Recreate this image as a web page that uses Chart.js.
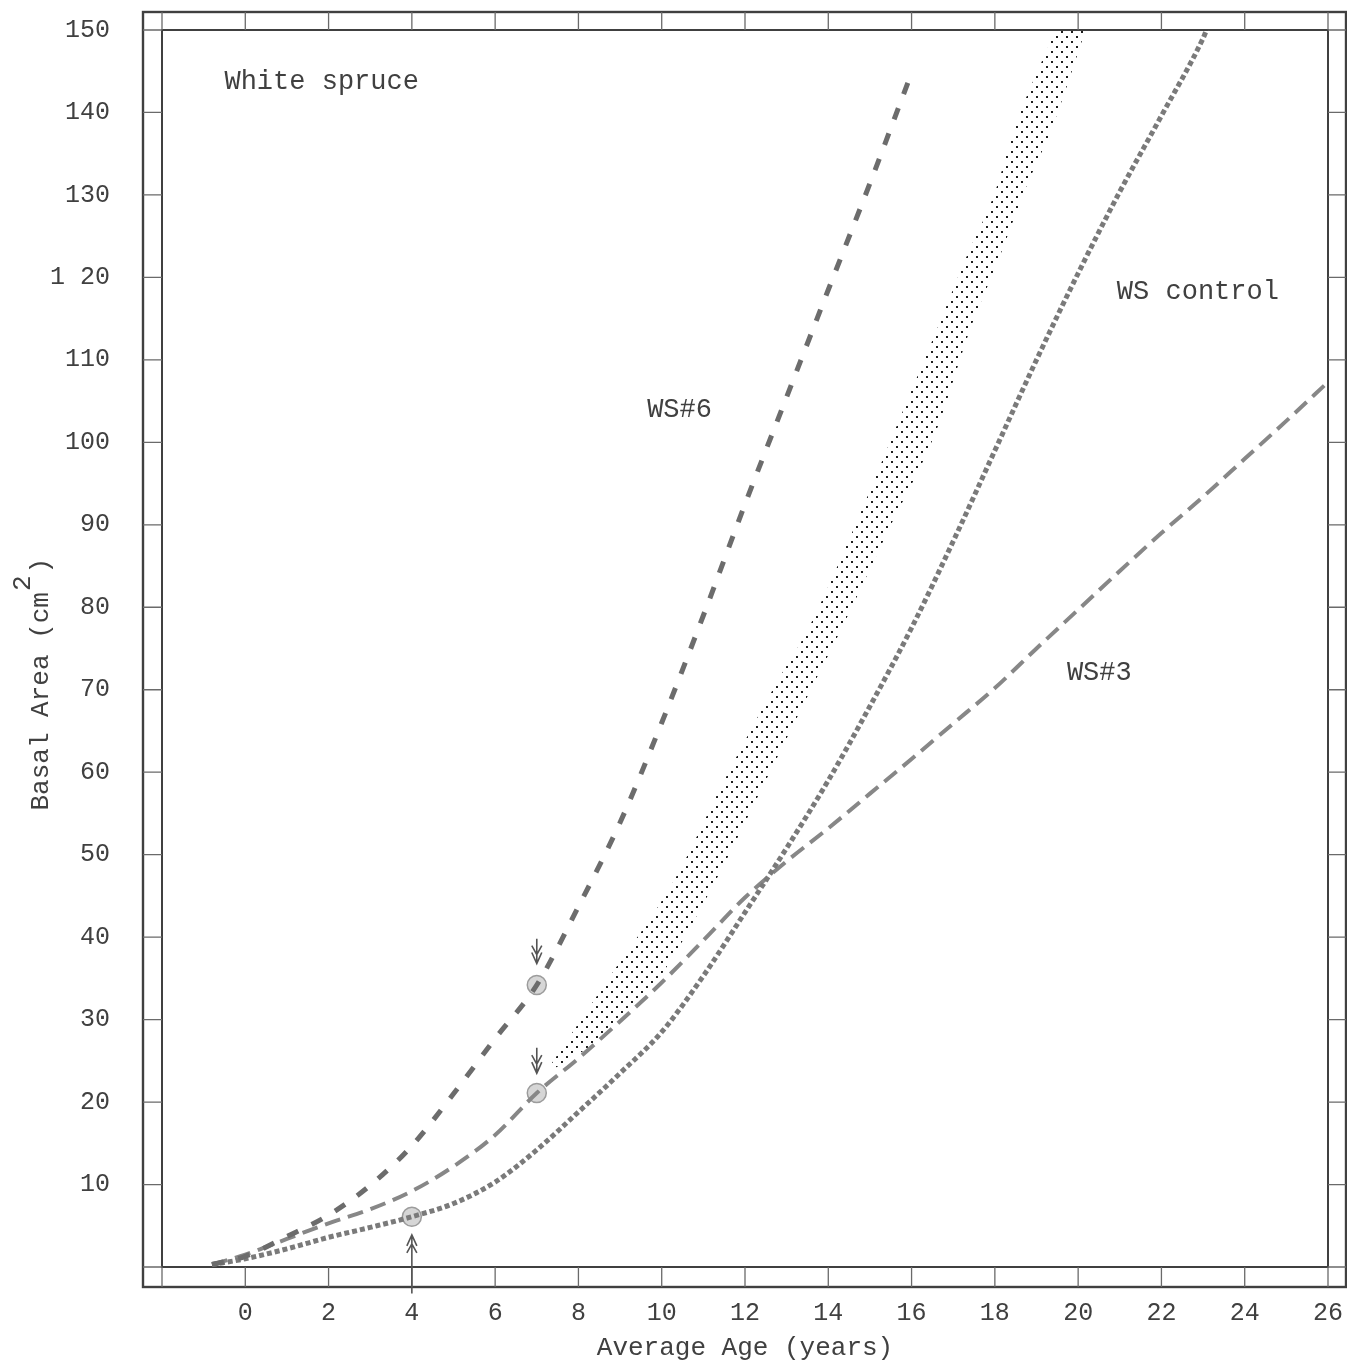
<!DOCTYPE html>
<html>
<head>
<meta charset="utf-8">
<title>White spruce - basal area vs average age</title>
<script src="https://cdn.jsdelivr.net/npm/chart.js@4.4.1/dist/chart.umd.min.js"></script>
<style>
  html, body { margin: 0; padding: 0; background: #fff; }
</style>
</head>
<body>
<canvas id="chart" width="1347" height="1367"></canvas>
<script>
/* Basal area (cm2) vs average age (years), white spruce.
 * Valori letti a occhio dal grafico originale (dattiloscritto). */

// WS#6 (tratteggio grosso)
const ws6Age  = [-0.8, 0, 1, 2, 3, 4, 5, 6, 7, 8, 9, 10, 11, 12, 13, 14, 15, 16];
const ws6Area = [0.3, 1.3, 3.7, 6.3, 9.9, 14.7, 21.0, 27.7, 34.2, 43.7, 53.9, 66.0, 79.0, 92.5, 105.5, 118.5, 131.4, 144.8];

// WS control (puntinato fitto)
const ctlAge  = [-0.8, 0, 1, 2, 3, 4, 5, 6, 7, 8, 9, 10, 11, 12, 13, 14, 15, 16, 17, 18, 19, 20, 21, 22, 23, 23.1];
const ctlArea = [0.3, 1.0, 2.2, 3.6, 4.8, 6.1, 7.7, 10.3, 14.2, 18.8, 23.5, 28.5, 35.3, 43.0, 50.8, 59.0, 68.0, 77.5, 88.0, 99.0, 110.0, 120.5, 130.4, 139.6, 149.0, 150.2];

// WS#3 (tratteggio lungo)
const ws3Age  = [-0.8, 0, 1, 2, 3, 4, 5, 6, 7, 8, 9, 10, 11, 12, 13, 14, 15, 16, 17, 18, 19, 20, 21, 22, 23, 24, 25, 26];
const ws3Area = [0.3, 1.5, 3.4, 5.3, 7.0, 9.2, 12.2, 16.0, 21.1, 25.3, 29.8, 34.5, 39.6, 44.8, 49.2, 53.2, 57.4, 61.6, 65.9, 70.2, 75.0, 79.7, 84.4, 89.0, 93.4, 98.0, 102.6, 107.3];

// fascia punteggiata: bordo sinistro (alto) e destro (basso)
const bandTopAge  = [7.2, 8.7, 10.3, 11.5, 12.8, 13.5, 14.6, 15.6, 16.6, 17.3, 18.0, 18.5, 19.46, 20.3];
const bandTopArea = [23.5, 34.8, 46.9, 59.0, 71.2, 77.2, 89.4, 101.5, 113.6, 122.3, 130.3, 138.5, 150.0, 160.0];
const bandBotAge  = [7.2, 8.0, 9.0, 10.0, 11.3, 12.5, 13.7, 14.3, 15.45, 16.6, 17.4, 18.1, 18.7, 19.4, 20.18];
const bandBotArea = [23.5, 25.8, 29.8, 35.5, 46.9, 59.0, 71.2, 77.2, 89.4, 101.5, 113.6, 122.3, 130.3, 138.5, 150.0];

// cerchi (inizio trattamento) e frecce
const markAge  = [7, 7, 4];
const markArea = [34.2, 21.1, 6.1];
const arrowAge  = [7, 7, 4];
const arrowTail = [39.8, 26.6, -3.2];
const arrowHead = [36.8, 23.5, 3.9];

// etichette nel grafico
const noteText = ['White spruce', 'WS#6', 'WS control', 'WS#3'];
const noteAge  = [-0.5, 9.65, 20.93, 19.73];
const noteArea = [143.7, 104.0, 118.2, 72.1];

// etichette degli assi
const xTickMin = -2, xTickMax = 26, xTickStep = 2;
const yTickText = ['', '10', '20', '30', '40', '50', '60', '70', '80', '90', '100', '110', '1 20', '130', '140', '150'];
const xTitle = 'Average Age (years)';
const yTitleMain = 'Basal Area (cm', yTitleSup = '2', yTitleEnd = ')';

const INK  = '#404040';
const FONT = "'Liberation Mono', 'Courier New', monospace";

function pts(xs, ys) { return xs.map((x, i) => ({ x, y: ys[i] })); }

function makeStipple() {
  const c = document.createElement('canvas');
  c.width = 10; c.height = 10;
  const g = c.getContext('2d');
  g.fillStyle = '#1e1e1e';
  g.fillRect(1, 1, 2, 2);
  g.fillRect(6, 6, 2, 2);
  return g.createPattern(c, 'repeat');
}

/* Doppia cornice con tacche fra i due bordi (stile carta millimetrata). */
const framePlugin = {
  id: 'frame',
  beforeDatasetsDraw(chart) {
    const { ctx, chartArea: a, scales: { x, y } } = chart;
    const L = a.left - 19, T = a.top - 18, R = a.right + 18, B = a.bottom + 20;
    ctx.save();
    ctx.strokeStyle = '#404040';
    ctx.lineWidth = 2.4;
    ctx.strokeRect(L, T, R - L, B - T);
    ctx.lineWidth = 2;
    ctx.strokeRect(a.left, a.top, a.right - a.left, a.bottom - a.top);
    ctx.lineWidth = 1.3;
    ctx.strokeStyle = '#6a6a6a';
    ctx.beginPath();
    x.ticks.forEach(t => {
      const px = x.getPixelForValue(t.value);
      ctx.moveTo(px, T); ctx.lineTo(px, a.top);
      ctx.moveTo(px, a.bottom); ctx.lineTo(px, B);
    });
    y.ticks.forEach(t => {
      const py = y.getPixelForValue(t.value);
      ctx.moveTo(L, py); ctx.lineTo(a.left, py);
      ctx.moveTo(a.right, py); ctx.lineTo(R, py);
    });
    ctx.stroke();
    ctx.restore();
  }
};

/* Frecce, etichette e titolo asse Y con esponente. */
const notesPlugin = {
  id: 'notes',
  afterDatasetsDraw(chart) {
    const { ctx, chartArea: a, scales: { x, y } } = chart;
    ctx.save();
    // frecce
    ctx.strokeStyle = '#555';
    ctx.lineWidth = 1.6;
    arrowAge.forEach((age, i) => {
      const px = x.getPixelForValue(age);
      const y1 = y.getPixelForValue(arrowTail[i]);
      const y2 = y.getPixelForValue(arrowHead[i]);
      const d = Math.sign(y2 - y1);
      ctx.beginPath();
      ctx.moveTo(px, y1); ctx.lineTo(px, y2);
      ctx.moveTo(px - 5, y2 - d * 11); ctx.lineTo(px, y2); ctx.lineTo(px + 5, y2 - d * 11);
      ctx.moveTo(px - 5, y2 - d * 18); ctx.lineTo(px, y2 - d * 9); ctx.lineTo(px + 5, y2 - d * 18);
      ctx.stroke();
    });
    // etichette
    ctx.fillStyle = INK;
    ctx.font = '27px ' + FONT;
    ctx.textAlign = 'left';
    ctx.textBaseline = 'middle';
    noteText.forEach((t, i) => {
      ctx.fillText(t, x.getPixelForValue(noteAge[i]), y.getPixelForValue(noteArea[i]));
    });
    // titolo asse Y
    ctx.font = '26px ' + FONT;
    ctx.translate(41, (a.top + a.bottom) / 2 + 162);
    ctx.rotate(-Math.PI / 2);
    ctx.fillText(yTitleMain, 0, 0);
    const w = ctx.measureText(yTitleMain).width;
    ctx.fillText(yTitleSup, w + 1, -18);
    ctx.fillText(yTitleEnd, w + ctx.measureText(yTitleSup).width + 3, 0);
    ctx.restore();
  }
};

const stipple = makeStipple();

new Chart(document.getElementById('chart'), {
  type: 'line',
  data: {
    datasets: [
      { label: 'band top', data: pts(bandTopAge, bandTopArea), borderColor: 'rgba(0,0,0,0)',
        pointRadius: 0, fill: false, cubicInterpolationMode: 'monotone' },
      { label: 'band bottom', data: pts(bandBotAge, bandBotArea), borderColor: 'rgba(0,0,0,0)',
        pointRadius: 0, fill: '-1', backgroundColor: stipple, cubicInterpolationMode: 'monotone' },
      { label: 'WS#6', data: pts(ws6Age, ws6Area), borderColor: '#6c6c6c', borderWidth: 5,
        borderDash: [12, 15], pointRadius: 0, fill: false, cubicInterpolationMode: 'monotone' },
      { label: 'WS control', data: pts(ctlAge, ctlArea), borderColor: '#7a7a7a', borderWidth: 5,
        borderDash: [5, 3], pointRadius: 0, fill: false, cubicInterpolationMode: 'monotone' },
      { label: 'WS#3', data: pts(ws3Age, ws3Area), borderColor: '#878787', borderWidth: 4,
        borderDash: [16, 8], pointRadius: 0, fill: false, cubicInterpolationMode: 'monotone' },
      { label: 'marks', type: 'scatter', data: pts(markAge, markArea), showLine: false,
        pointRadius: 9.5, pointBackgroundColor: '#d6d6d6', pointBorderColor: '#9c9c9c', pointBorderWidth: 1.5 }
    ]
  },
  options: {
    responsive: false,
    animation: false,
    layout: { padding: { top: 30, right: 19, left: 0, bottom: 0 } },
    plugins: { legend: { display: false }, tooltip: { enabled: false } },
    scales: {
      x: {
        type: 'linear', min: xTickMin, max: xTickMax,
        afterFit: s => { s.height = 100; s.paddingLeft = 0; s.paddingRight = 0; },
        grid: { display: false, drawTicks: false }, border: { display: false },
        ticks: {
          stepSize: xTickStep, autoSkip: false, maxRotation: 0, padding: 31,
          color: INK, font: { family: FONT, size: 25 },
          callback: v => (v < 0 ? '' : String(v))
        },
        title: { display: true, text: xTitle, color: INK, padding: 3, font: { family: FONT, size: 26 } }
      },
      y: {
        type: 'linear', min: 0, max: 150,
        afterFit: s => { s.width = 162; s.paddingTop = 0; s.paddingBottom = 0; },
        grid: { display: false, drawTicks: false }, border: { display: false },
        ticks: {
          stepSize: 10, autoSkip: false, padding: 52,
          color: INK, font: { family: FONT, size: 25 },
          callback: (v, i) => yTickText[i]
        }
      }
    }
  },
  plugins: [framePlugin, notesPlugin]
});
</script>
</body>
</html>
